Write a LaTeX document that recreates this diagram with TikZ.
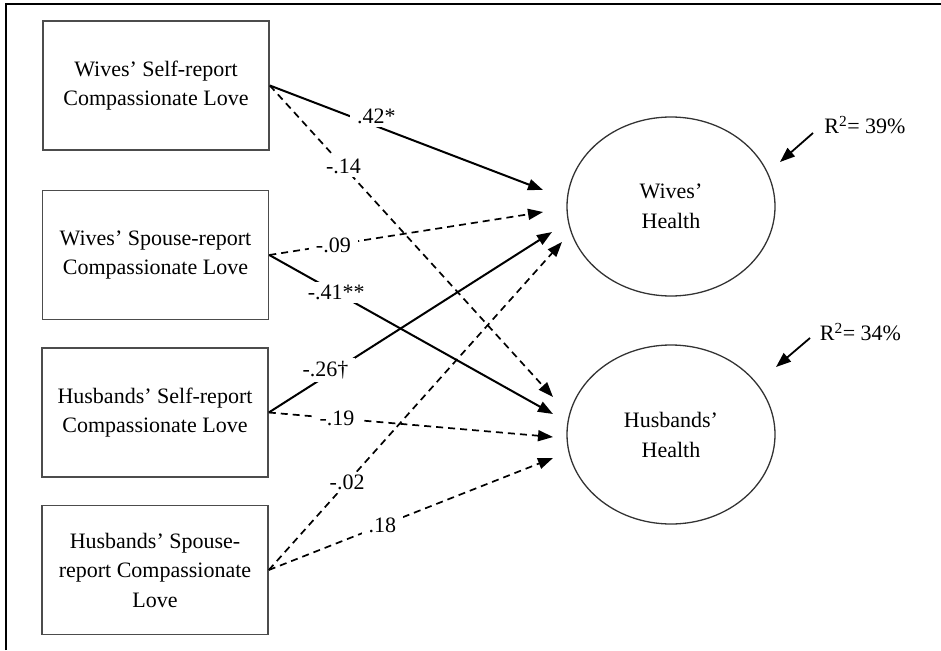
\documentclass[tikz,border=0pt]{standalone}
\usepackage{fontspec}
\setmainfont{Liberation Serif}
\usetikzlibrary{shapes.geometric,arrows.meta}
\tikzset{
  measure/.style={draw=black!70,line width=1.6pt,minimum width=226pt,minimum height=129pt,
    align=center,inner sep=0pt,font=\fontsize{22}{29.5}\selectfont},
  outcome/.style={ellipse,draw=black!80,line width=1.3pt,minimum width=208pt,minimum height=179pt,
    align=center,inner sep=0pt,font=\fontsize{22}{30}\selectfont},
  sig/.style={line width=2pt,-{Triangle[length=15pt,width=11pt]}},
  nonsig/.style={line width=1.7pt,dash pattern=on 7pt off 5pt,-{Triangle[length=15pt,width=11pt]}},
  coef/.style={fill=white,inner xsep=7pt,inner ysep=3pt,font=\fontsize{22}{24}\selectfont},
  rsq/.style={inner sep=0pt,font=\fontsize{22}{24}\selectfont},
  resid/.style={line width=1.8pt,-{Triangle[length=15pt,width=11pt]}}
}
\begin{document}
\begin{tikzpicture}[x=1pt,y=-1pt]
      \useasboundingbox (0,0) rectangle (941,650);
      \draw[line width=2pt] (5.5,650) -- (5.5,4.2) -- (941,4.2);

      \node[measure] (wsr) at (156,85.5) {Wives’ Self-report\\Compassionate Love};
      \node[measure] (wpr) at (155.5,255) {Wives’ Spouse-report\\Compassionate Love};
      \node[measure] (hsr) at (155,412.5) {Husbands’ Self-report\\Compassionate Love};
      \node[measure] (hpr) at (155,570) {Husbands’ Spouse-\\report Compassionate\\Love};

      \node[outcome] (wh) at (671,206.5) {Wives’\\Health};
      \node[outcome] (hh) at (671,434.5) {Husbands’\\Health};

      \coordinate (wh-a) at (543,190); \coordinate (wh-b) at (543,212);
      \coordinate (wh-c) at (552,232); \coordinate (wh-d) at (562,242);
      \coordinate (hh-a) at (553,397); \coordinate (hh-b) at (553,414);
      \coordinate (hh-c) at (553,437); \coordinate (hh-d) at (553,458);

      \draw[sig] (wsr.east) -- node[coef,pos=.39,yshift=10pt]{.42*} (wh-a);
      \draw[nonsig] (wsr.east) -- node[coef,pos=.26]{-.14} (hh-a);
      \draw[nonsig] (wpr.east) -- node[coef,pos=.234]{-.09} (wh-b);
      \draw[sig] (wpr.east) -- node[coef,pos=.236]{-.41**} (hh-b);
      \draw[sig] (hsr.east) -- node[coef,pos=.2,yshift=6pt]{-.26†} (wh-c);
      \draw[nonsig] (hsr.east) -- node[coef,pos=.24]{-.19} (hh-c);
      \draw[nonsig] (hpr.east) -- node[coef,pos=.267]{-.02} (wh-d);
      \draw[nonsig] (hpr.east) -- node[coef,pos=.4]{.18} (hh-d);

      \node[rsq] (r2w) at (865,125) {R\textsuperscript{2}= 39\%};
      \node[rsq] (r2h) at (860.5,332) {R\textsuperscript{2}= 34\%};
      \coordinate (r2w-tail) at (813,133); \coordinate (r2w-head) at (780,162);
      \coordinate (r2h-tail) at (810,338); \coordinate (r2h-head) at (776,367);
      \draw[resid] (r2w-tail) -- (r2w-head);
      \draw[resid] (r2h-tail) -- (r2h-head);
\end{tikzpicture}
\end{document}
